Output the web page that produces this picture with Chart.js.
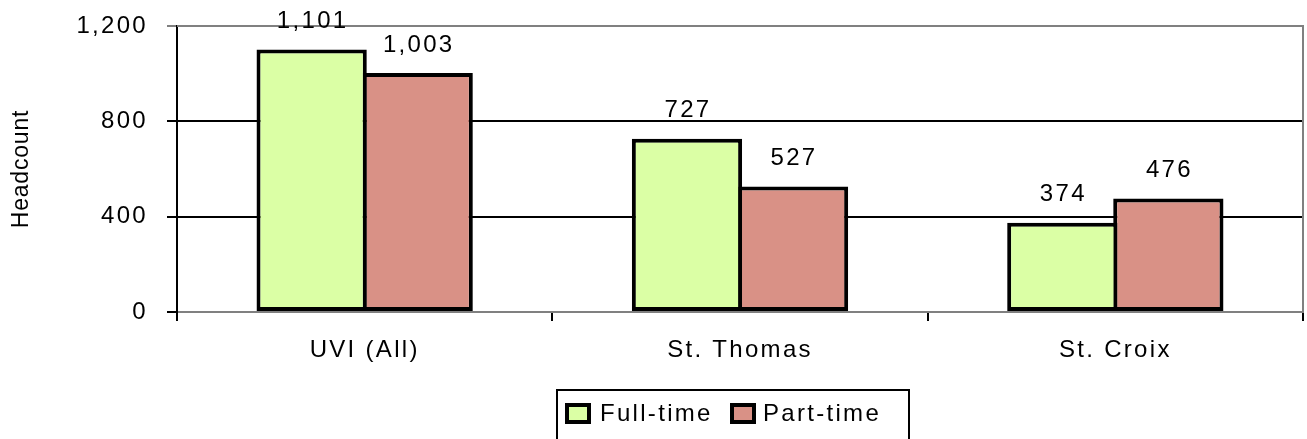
<!DOCTYPE html>
<html>
<head>
<meta charset="utf-8">
<script src="https://cdn.jsdelivr.net/npm/chart.js@4/dist/chart.umd.min.js"></script>
<style>
  html, body { margin: 0; padding: 0; background: #ffffff; }
  #wrap { width: 1307px; height: 439px; }
</style>
</head>
<body>
<div id="wrap"><canvas id="c" width="1307" height="439"></canvas></div>
<script>
const categories = ['UVI (All)', 'St. Thomas', 'St. Croix'];
const fullTime = [1101, 727, 374];
const partTime = [1003, 527, 476];
const seriesNames = ['Full-time', 'Part-time'];
const yTicks = [0, 400, 800, 1200];
const yTitle = 'Headcount';

const FONT = "'Liberation Sans', Arial, sans-serif";
const GREEN = '#DBFFA5';
const RED = '#D99186';
const SP = '2.3px';
const fmt = v => v.toLocaleString('en-US');

Chart.defaults.font.family = FONT;
Chart.defaults.color = '#000';

const spacingPlugin = {
  id: 'spacing',
  beforeUpdate(chart) { chart.ctx.letterSpacing = SP; },
  beforeDraw(chart) {
    chart.ctx.letterSpacing = SP;
    const s = chart.scales.y;
    if (s && !s._wrappedTitle) {
      const orig = s.drawTitle;
      s.drawTitle = function () {
        this.ctx.save();
        this.ctx.letterSpacing = '0.8px';
        orig.call(this);
        this.ctx.restore();
      };
      s._wrappedTitle = true;
    }
  }
};

const framePlugin = {
  id: 'frame',
  afterDatasetsDraw(chart) {
    const ctx = chart.ctx;
    const a = chart.chartArea;
    ctx.save();
    ctx.strokeStyle = '#808080';
    ctx.lineWidth = 2;
    ctx.beginPath();
    ctx.moveTo(a.left, a.top);
    ctx.lineTo(a.right, a.top);
    ctx.lineTo(a.right, a.bottom);
    ctx.stroke();
    ctx.restore();
    // value labels
    ctx.save();
    ctx.letterSpacing = SP;
    ctx.font = '24px ' + FONT;
    ctx.fillStyle = '#000';
    ctx.textAlign = 'center';
    ctx.textBaseline = 'middle';
    chart.data.datasets.forEach((ds, di) => {
      const meta = chart.getDatasetMeta(di);
      meta.data.forEach((el, i) => {
        ctx.fillText(fmt(ds.data[i]), el.x + 1, el.y - 28);
      });
    });
    ctx.restore();
  },
  afterDraw(chart) {
    const ctx = chart.ctx;
    ctx.save();
    ctx.letterSpacing = SP;
    // legend box
    ctx.strokeStyle = '#000';
    ctx.lineWidth = 2;
    ctx.strokeRect(557, 390, 352, 60);
    const items = [
      { x: 567, tx: 600, ds: 0 },
      { x: 732, tx: 763, ds: 1 }
    ];
    ctx.font = '24px ' + FONT;
    ctx.textBaseline = 'middle';
    ctx.textAlign = 'left';
    items.forEach(it => {
      const ds = chart.data.datasets[it.ds];
      ctx.fillStyle = ds.backgroundColor;
      ctx.fillRect(it.x, 405, 22, 17);
      ctx.lineWidth = 4;
      ctx.strokeStyle = '#000';
      ctx.strokeRect(it.x, 405, 22, 17);
      ctx.fillStyle = '#000';
      ctx.fillText(ds.label, it.tx, 414);
    });
    ctx.restore();
  }
};

new Chart(document.getElementById('c'), {
  type: 'bar',
  data: {
    labels: categories,
    datasets: [
      { label: seriesNames[0], data: fullTime, backgroundColor: GREEN, borderColor: '#000', borderWidth: 4, borderSkipped: false },
      { label: seriesNames[1], data: partTime, backgroundColor: RED, borderColor: '#000', borderWidth: 4, borderSkipped: false }
    ]
  },
  options: {
    responsive: false,
    animation: false,
    devicePixelRatio: 1,
    layout: { padding: { left: 0, right: 4, top: 26, bottom: 0 } },
    plugins: { legend: { display: false }, tooltip: { enabled: false } },
    datasets: { bar: { categoryPercentage: 0.565, barPercentage: 1.04 } },
    scales: {
      x: {
        offset: true,
        grid: { offset: true, drawOnChartArea: false, drawTicks: true, tickLength: 9, color: '#000', lineWidth: 2 },
        border: { color: '#808080', width: 2 },
        ticks: { font: { size: 24 }, color: '#000', padding: 15, maxRotation: 0 },
        afterFit(s) { s.height = 127; s.paddingLeft = 0; s.paddingRight = 0; }
      },
      y: {
        min: 0, max: 1200,
        afterBuildTicks(s) { s.ticks = yTicks.map(v => ({ value: v })); },
        ticks: { font: { size: 24 }, color: '#000', padding: 19, callback: v => fmt(v) },
        grid: {
          color: ctx => (ctx.tick && ctx.tick.value === 1200) ? '#808080' : '#000',
          lineWidth: 2, tickLength: 10, drawTicks: true
        },
        border: { color: '#000', width: 2 },
        title: { display: true, text: yTitle, font: { size: 23 }, color: '#000', padding: { top: 8, bottom: 0 } },
        afterFit(s) { s.width = 177; s.paddingTop = 0; s.paddingBottom = 0; }
      }
    }
  },
  plugins: [spacingPlugin, framePlugin]
});
</script>
</body>
</html>
